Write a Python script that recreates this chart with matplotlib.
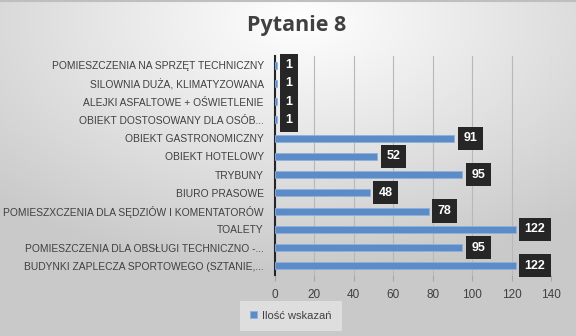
import numpy as np
import matplotlib.pyplot as plt

categories = [
    'BUDYNKI ZAPLECZA SPORTOWEGO (SZTANIE,...',
    'POMIESZCZENIA DLA OBSŁUGI TECHNICZNO -...',
    'TOALETY',
    'POMIESZXCZENIA DLA SĘDZIÓW I KOMENTATORÓW',
    'BIURO PRASOWE',
    'TRYBUNY',
    'OBIEKT HOTELOWY',
    'OBIEKT GASTRONOMICZNY',
    'OBIEKT DOSTOSOWANY DLA OSÓB...',
    'ALEJKI ASFALTOWE + OŚWIETLENIE',
    'SILOWNIA DUŻA, KLIMATYZOWANA',
    'POMIESZCZENIA NA SPRZĘT TECHNICZNY',
]
values = [122, 95, 122, 78, 48, 95, 52, 91, 1, 1, 1, 1]
xticks = [0, 20, 40, 60, 80, 100, 120, 140]
series_name = 'Ilość wskazań'
title = 'Pytanie 8'

plt.rcParams['font.family'] = ['Liberation Sans', 'DejaVu Sans']
text_color = '#404040'

fig = plt.figure(figsize=(5.76, 3.36), dpi=100)

# background: soft radial gradient, white near the title, gray at the corners
bg = fig.add_axes([0, 0, 1, 1], zorder=-10)
yy, xx = np.mgrid[0:336, 0:576]
d = np.sqrt(((xx - 300) / 576.0) ** 2 + ((yy - 20) / 336.0) ** 2)
d = np.clip(d / 0.75, 0, 1)
shade = 1.0 - 0.21 * d
img = np.dstack([shade, shade, shade])
bg.imshow(img, aspect='auto', extent=[0, 1, 0, 1], origin='upper')
bg.axhline(0.998, color='#bfbfbf', lw=1.5)
bg.set_axis_off()

ax = fig.add_axes([0.477, 0.182, 0.48, 0.651])
ax.patch.set_alpha(0)
y = np.arange(len(categories))
ax.barh(y, values, height=0.38, color='#5b8cc8', edgecolor='#8fb1dc', linewidth=0.6,
        label=series_name, zorder=3)
for yi, v in zip(y, values):
    ax.text(v + 4.5, yi, str(v), va='center', ha='left', color='white', fontsize=9,
            fontweight='bold', zorder=4,
            bbox=dict(boxstyle='square,pad=0.45', fc='#262626', ec='none'))

ax.set_xlim(0, 140)
ax.set_ylim(-0.5, len(categories) - 0.5)
ax.set_xticks(xticks)
ax.set_xticklabels([str(t) for t in xticks], color=text_color, fontsize=8.5)
ax.set_yticks(y)
ax.set_yticklabels(categories, color=text_color, fontsize=7.4)
ax.tick_params(axis='y', length=0, pad=8)
ax.tick_params(axis='x', length=4, color='#a6a6a6', pad=6)
ax.grid(axis='x', color='#b8b8b8', lw=0.8, zorder=0)
for s in ['top', 'right', 'bottom']:
    ax.spines[s].set_visible(False)
ax.spines['left'].set_color('#262626')
ax.spines['left'].set_linewidth(1.5)

fig.text(0.515, 0.925, title, ha='center', va='center', fontsize=15.5, fontweight='bold',
         color=text_color, family=['Open Sans', 'DejaVu Sans'])

leg = fig.legend(loc='center', bbox_to_anchor=(0.505, 0.06), frameon=True, fontsize=8,
                 handlelength=0.6, handleheight=0.6, handletextpad=0.5, borderpad=0.6)
leg.get_frame().set_facecolor('#e4e4e4')
leg.get_frame().set_edgecolor('none')
leg.get_frame().set_boxstyle('square')
for t in leg.get_texts():
    t.set_color(text_color)

fig.savefig('out.png', dpi=100)
